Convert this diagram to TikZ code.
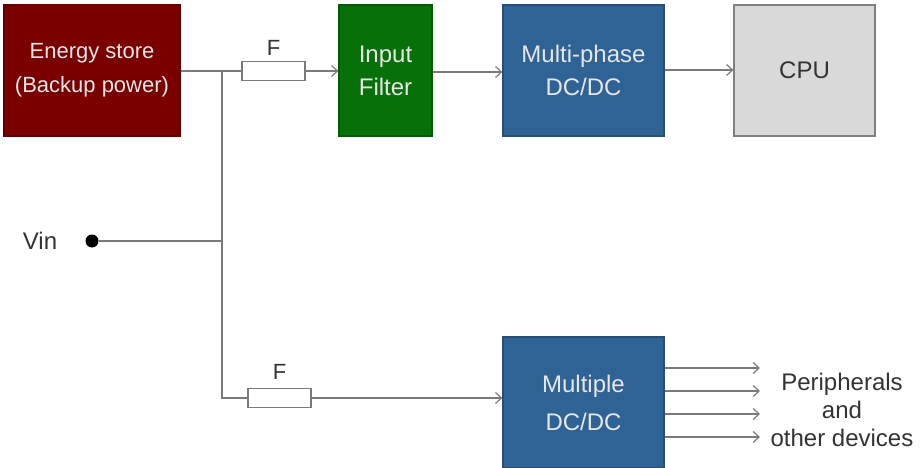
\documentclass[tikz,border=0pt]{standalone}
\usepackage{fontspec}
\setmainfont{Liberation Sans}
\usetikzlibrary{arrows.meta}
\definecolor{wire}{HTML}{7A7A7A}
\definecolor{esred}{HTML}{7A0000}
\definecolor{flgreen}{HTML}{087008}
\definecolor{dcblue}{HTML}{2F6295}
\definecolor{cpugray}{HTML}{D9D9D9}
\definecolor{boxtext}{HTML}{E6E6E6}
\definecolor{darktext}{HTML}{333333}
\tikzset{
  blk/.style={draw=#1!80!black, fill=#1, line width=1.2pt, inner sep=0pt, align=center,
    text=boxtext, font=\fontsize{24}{33}\selectfont},
  fuse/.style={draw=wire, fill=white, line width=1.2pt, minimum width=63pt, minimum height=19pt, inner sep=0pt},
  wireln/.style={draw=wire, line width=1.4pt},
  arr/.style={wireln, -{Straight Barb[length=6pt,width=11pt,line width=1.2pt]}},
  lbl/.style={text=darktext, inner sep=0pt, font=\fontsize{24}{28}\selectfont, align=center}
}
\begin{document}
\begin{tikzpicture}[x=1pt,y=-1pt]
\useasboundingbox (0,0) rectangle (921,468);
\node[blk=esred, minimum width=176pt, minimum height=131pt, font=\fontsize{22}{34}\selectfont] (es) at (92,70.5) {Energy store\\(Backup power)};
\node[blk=flgreen, minimum width=93pt, minimum height=131pt] (flt) at (385.5,70.5) {Input\\Filter};
\node[blk=dcblue, minimum width=161pt, minimum height=131pt] (mp) at (583.5,70.5) {Multi-phase\\DC/DC};
\node[blk=cpugray, draw=gray, text=darktext, minimum width=141pt, minimum height=131pt] (cpu) at (804.5,70.5) {CPU};
\node[blk=dcblue, minimum width=161pt, minimum height=131pt, font=\fontsize{24}{38}\selectfont] (mdc) at (583.5,402.5) {Multiple\\DC/DC};

\node[fuse] (f1) at (273.5,71) {};
\node[fuse] (f2) at (279.5,398) {};
\node[lbl, font=\fontsize{22}{26}\selectfont] (f1l) at (273.5,48) {F};
\node[lbl, font=\fontsize{22}{26}\selectfont] (f2l) at (279.5,372) {F};

\coordinate (j1) at (222,71);
\coordinate (j2) at (222,241);
\coordinate (j3) at (222,398);

\node[circle, fill=black, minimum size=13pt, inner sep=0pt] (dot) at (92,241) {};
\node[lbl] (vin) at (40,241) {Vin};

\draw[wireln] (es.east |- f1) -- (f1.west);
\draw[arr] (f1.east) -- (f1.east -| flt.west);
\draw[arr] (flt.east |- 0,72) -- (mp.west |- 0,72);
\draw[arr] (mp.east |- 0,70) -- (cpu.west |- 0,70);
\draw[wireln] (j1) -- (j3) -- (f2.west);
\draw[wireln] (dot) -- (j2);
\draw[arr] (f2.east) -- (f2.east -| mdc.west);

\coordinate (o1) at (760,368);
\coordinate (o2) at (760,391);
\coordinate (o3) at (760,414);
\coordinate (o4) at (760,437);
\foreach \o in {o1,o2,o3,o4}{\draw[arr] (mdc.east |- \o) -- (\o);}
\node[lbl] (per) at (842,410) {Peripherals\\and\\other devices};
\end{tikzpicture}
\end{document}
